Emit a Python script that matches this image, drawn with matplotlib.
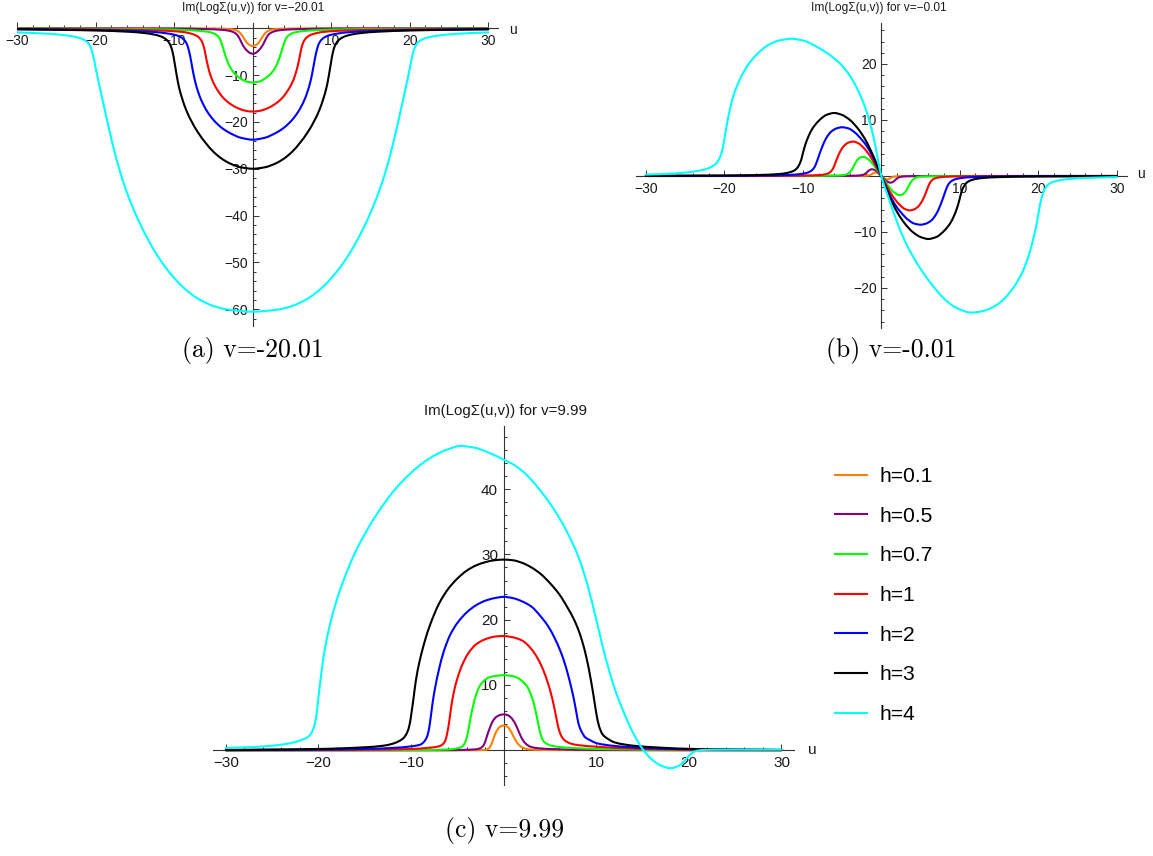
import matplotlib
matplotlib.use("Agg")
import matplotlib.pyplot as plt
from matplotlib.lines import Line2D
from matplotlib.path import Path
from matplotlib.patches import PathPatch

W, H = 1153, 856

# ---------------- data -----------------
labels = ["h=0.1", "h=0.5", "h=0.7", "h=1", "h=2", "h=3", "h=4"]
colors = ["#FF8000", "#800080", "#00FF00", "#FF0000", "#0000FF", "#000000", "#00FFFF"]

titles = ["Im(LogΣ(u,v)) for v=\u221220.01", "Im(LogΣ(u,v)) for v=\u22120.01", "Im(LogΣ(u,v)) for v=9.99"]
captions = ["(a) v=-20.01", "(b) v=-0.01", "(c) v=9.99"]

# panel (a)  v = -20.01
a_u_h01 = [-30,-10,-6,-4,-3,-2.4,-2.0,-1.8,-1.6,-1.4,-1.2,-1.0,-0.8,-0.6,-0.4,-0.2,0,0.2,0.4,0.6,0.8,1.0,1.2,1.4,1.6,1.8,2.0,2.4,3,4,6,10,30]
a_y_h01 = [-0.01,-0.04,-0.07,-0.12,-0.2,-0.32,-0.55,-0.75,-1.05,-1.45,-1.95,-2.5,-3.0,-3.35,-3.6,-3.75,-3.8,-3.75,-3.6,-3.35,-3.0,-2.5,-1.95,-1.45,-1.05,-0.75,-0.55,-0.32,-0.2,-0.12,-0.07,-0.04,-0.01]
a_u_h05 = [-30,-20,-10,-6,-4,-3.2,-2.7,-2.3,-2.0,-1.8,-1.6,-1.4,-1.2,-0.9,-0.6,-0.3,0,0.3,0.6,0.9,1.2,1.4,1.6,1.8,2.0,2.3,2.7,3.2,4,6,10,20,30]
a_y_h05 = [-0.03,-0.05,-0.1,-0.2,-0.35,-0.5,-0.7,-1.0,-1.4,-1.9,-2.5,-3.2,-3.8,-4.5,-5.0,-5.35,-5.45,-5.35,-5.0,-4.5,-3.8,-3.2,-2.5,-1.9,-1.4,-1.0,-0.7,-0.5,-0.35,-0.2,-0.1,-0.05,-0.03]
a_u_h07 = [-30,-20,-12,-8,-6,-5.0,-4.6,-4.3,-4.1,-3.9,-3.7,-3.5,-3.2,-2.9,-2.5,-2.0,-1.5,-1.0,-0.5,0,0.5,1.0,1.5,2.0,2.5,2.9,3.2,3.5,3.7,3.9,4.1,4.3,4.6,5.0,6,8,12,20,30]
a_y_h07 = [-0.08,-0.12,-0.25,-0.45,-0.7,-1.1,-1.5,-2.0,-2.7,-3.6,-4.7,-5.8,-7.2,-8.3,-9.3,-10.2,-10.8,-11.3,-11.5,-11.6,-11.5,-11.3,-10.8,-10.2,-9.3,-8.3,-7.2,-5.8,-4.7,-3.6,-2.7,-2.0,-1.5,-1.1,-0.7,-0.45,-0.25,-0.12,-0.08]
a_u_h1 = [-30,-18,-12,-9,-7.6,-7.0,-6.6,-6.35,-6.15,-5.95,-5.7,-5.4,-5.0,-4.5,-3.8,-3.0,-2.0,-1.0,0,1.0,2.0,3.0,3.8,4.5,5.0,5.4,5.7,5.95,6.15,6.35,6.6,7.0,7.6,9,12,18,30]
a_y_h1 = [-0.15,-0.3,-0.5,-0.8,-1.3,-1.8,-2.5,-3.4,-4.6,-6.3,-8.2,-10.0,-11.7,-13.2,-14.8,-16.0,-17.0,-17.6,-17.8,-17.6,-17.0,-16.0,-14.8,-13.2,-11.7,-10.0,-8.2,-6.3,-4.6,-3.4,-2.5,-1.8,-1.3,-0.8,-0.5,-0.3,-0.15]
a_u_h2 = [-30,-22,-16,-12,-10,-9.3,-8.8,-8.45,-8.2,-7.95,-7.7,-7.4,-7.0,-6.5,-5.8,-5.0,-4.0,-3.0,-1.5,0,1.5,3.0,4.0,5.0,5.8,6.5,7.0,7.4,7.7,7.95,8.2,8.45,8.8,9.3,10,12,16,22,30]
a_y_h2 = [-0.2,-0.35,-0.55,-0.9,-1.4,-1.8,-2.4,-3.2,-4.4,-6.2,-8.5,-11.0,-13.4,-15.6,-17.8,-19.6,-21.2,-22.3,-23.4,-23.8,-23.4,-22.3,-21.2,-19.6,-17.8,-15.6,-13.4,-11.0,-8.5,-6.2,-4.4,-3.2,-2.4,-1.8,-1.4,-0.9,-0.55,-0.35,-0.2]
a_u_h3 = [-30,-25,-20,-16,-13.5,-12,-11.3,-10.8,-10.45,-10.2,-9.95,-9.7,-9.4,-9.0,-8.5,-7.8,-7.0,-6.0,-5.0,-4.0,-3.0,-1.5,0,1.5,3.0,4.0,5.0,6.0,7.0,7.8,8.5,9.0,9.4,9.7,9.95,10.2,10.45,10.8,11.3,12,13.5,16,20,25,30]
a_y_h3 = [-0.25,-0.35,-0.5,-0.75,-1.1,-1.6,-2.1,-2.8,-3.8,-5.2,-7.5,-10.0,-12.6,-15.0,-17.4,-19.9,-22.2,-24.5,-26.4,-27.8,-28.8,-29.7,-30.0,-29.7,-28.8,-27.8,-26.4,-24.5,-22.2,-19.9,-17.4,-15.0,-12.6,-10.0,-7.5,-5.2,-3.8,-2.8,-2.1,-1.6,-1.1,-0.75,-0.5,-0.35,-0.25]
a_u_h4 = [-30,-26,-24,-22.5,-21.6,-21.0,-20.6,-20.3,-20.0,-19.7,-19.3,-18.8,-18.3,-17.7,-17.0,-16.2,-15.2,-14,-12.5,-11,-9,-7,-5,-3,0,3,5,7,9,11,12.5,14,15.2,16.2,17.0,17.7,18.3,18.8,19.3,19.7,20.0,20.3,20.6,21.0,21.6,22.5,24,26,30]
a_y_h4 = [-0.9,-1.2,-1.5,-1.9,-2.4,-3.1,-4.3,-6.1,-8.6,-11.0,-14.1,-17.9,-21.6,-25.8,-30.1,-34.3,-38.6,-43.0,-47.6,-51.3,-55.1,-57.7,-59.3,-60.1,-60.5,-60.1,-59.3,-57.7,-55.1,-51.3,-47.6,-43.0,-38.6,-34.3,-30.1,-25.8,-21.6,-17.9,-14.1,-11.0,-8.6,-6.1,-4.3,-3.1,-2.4,-1.9,-1.5,-1.2,-0.9]

# panel (b)  v = -0.01
b_u_h01 = [-30,-4,-2,-1.6,-1.3,-1.0,-0.7,-0.4,0,0.4,0.7,1.0,1.3,1.6,2,4,30]
b_y_h01 = [0,0.01,0.05,0.12,0.25,0.5,0.62,0.45,0,-0.45,-0.62,-0.5,-0.25,-0.12,-0.05,-0.01,0]
b_u_h05 = [-30,-6,-4,-3,-2.5,-2.1,-1.8,-1.5,-1.2,-0.9,-0.6,-0.3,0,0.3,0.6,0.9,1.2,1.5,1.8,2.1,2.5,3,4,6,30]
b_y_h05 = [0,0.01,0.03,0.07,0.15,0.35,0.7,1.05,1.2,1.1,0.85,0.45,0,-0.45,-0.85,-1.1,-1.2,-1.05,-0.7,-0.35,-0.15,-0.07,-0.03,-0.01,0]
b_u_h07 = [-30,-10,-6,-5,-4.5,-4.2,-3.9,-3.6,-3.3,-3.0,-2.6,-2.2,-1.8,-1.3,-0.7,0,0.7,1.3,1.8,2.2,2.6,3.0,3.3,3.6,3.9,4.2,4.5,5,6,10,30]
b_y_h07 = [0,0.02,0.06,0.12,0.25,0.45,0.85,1.5,2.3,2.95,3.35,3.4,3.1,2.5,1.4,0,-1.4,-2.5,-3.1,-3.4,-3.35,-2.95,-2.3,-1.5,-0.85,-0.45,-0.25,-0.12,-0.06,-0.02,0]
b_u_h1 = [-30,-15,-10,-8,-7,-6.6,-6.3,-6.0,-5.7,-5.3,-4.8,-4.2,-3.6,-3.0,-2.3,-1.5,-0.7,0,0.7,1.5,2.3,3.0,3.6,4.2,4.8,5.3,5.7,6.0,6.3,6.6,7,8,10,15,30]
b_y_h1 = [0,0.02,0.06,0.15,0.35,0.6,1.0,1.8,2.9,4.2,5.3,5.95,6.15,5.9,5.1,3.7,1.8,0,-1.8,-3.7,-5.1,-5.9,-6.15,-5.95,-5.3,-4.2,-2.9,-1.8,-1.0,-0.6,-0.35,-0.15,-0.06,-0.02,0]
b_u_h2 = [-30,-20,-15,-11,-9.5,-8.9,-8.5,-8.2,-7.9,-7.5,-7.0,-6.4,-5.7,-5.0,-4.2,-3.4,-2.5,-1.7,-0.8,0,0.8,1.7,2.5,3.4,4.2,5.0,5.7,6.4,7.0,7.5,7.9,8.2,8.5,8.9,9.5,11,15,20,30]
b_y_h2 = [0.01,0.03,0.08,0.25,0.55,0.95,1.6,2.6,3.8,5.3,6.8,7.9,8.5,8.7,8.5,7.8,6.5,5.0,2.6,0,-2.6,-5.0,-6.5,-7.8,-8.5,-8.7,-8.5,-7.9,-6.8,-5.3,-3.8,-2.6,-1.6,-0.95,-0.55,-0.25,-0.08,-0.03,-0.01]
b_u_h3 = [-30,-20,-15,-13,-12,-11.2,-10.8,-10.5,-10.2,-10.0,-9.7,-9.3,-8.8,-8.0,-7.0,-6.0,-5.0,-4.0,-3.0,-2.0,-1.0,-0.5,0,0.5,1.0,2.0,3.0,4.0,5.0,6.0,7.0,8.0,8.8,9.3,9.7,10.0,10.2,10.5,10.8,11.2,12,13,15,20,30]
b_y_h3 = [0.02,0.08,0.2,0.35,0.55,0.9,1.3,1.9,2.9,4.0,5.5,7.0,8.4,9.8,10.9,11.25,10.9,10.0,8.5,6.4,3.5,1.8,0,-1.8,-3.5,-6.4,-8.5,-10.0,-10.9,-11.25,-10.9,-9.8,-8.4,-7.0,-5.5,-4.0,-2.9,-1.9,-1.3,-0.9,-0.55,-0.35,-0.2,-0.08,-0.02]
b_u_h4 = [-30,-27,-25,-23,-22,-21,-20.5,-20.2,-20.0,-19.7,-19.3,-18.8,-18,-17,-16,-14.5,-13,-11.5,-10,-8,-6,-5,-4,-3,-2,-1,0,1.0,2,3,4,5,6.5,8,9.5,11.5,13,14.5,15.3,16,17,18,18.8,19.4,19.8,20.1,20.4,20.8,21.3,22,23.5,26,30]
b_y_h4 = [0.24,0.4,0.6,1.0,1.4,2.3,3.5,5.0,6.5,9.0,11.8,14.5,17.3,19.8,21.5,23.3,24.2,24.5,24.2,22.9,21.0,19.7,17.9,15.4,12.0,7.0,0,-4.2,-8.2,-11.6,-14.3,-16.6,-19.5,-21.9,-23.5,-24.4,-24.1,-23.2,-22.4,-21.4,-19.6,-17.1,-14.1,-11.0,-8.5,-6.0,-4.0,-2.4,-1.5,-1.0,-0.6,-0.35,-0.2]

# panel (c)  v = 9.99
c_u_h01 = [-30,-4,-2,-1.6,-1.3,-1.0,-0.7,-0.4,0,0.4,0.7,1.0,1.3,1.6,2.0,2.5,3,5,30]
c_y_h01 = [0,0.01,0.05,0.3,1.0,2.2,3.1,3.6,3.8,3.6,3.1,2.3,1.5,0.9,0.45,0.2,0.12,0.04,0]
c_u_h05 = [-30,-6,-3,-2.5,-2.2,-2.0,-1.8,-1.5,-1.2,-0.8,-0.4,0,0.4,0.8,1.2,1.5,1.8,2.1,2.4,2.8,3.5,5,10,30]
c_y_h05 = [0.0,0.02,0.15,0.35,0.7,1.3,2.2,3.4,4.4,5.1,5.4,5.5,5.4,5.0,4.2,3.3,2.3,1.5,1.0,0.6,0.35,0.2,0.05,0.0]
c_u_h07 = [-30,-10,-6,-5,-4.5,-4.2,-4.0,-3.8,-3.6,-3.3,-3.0,-2.6,-2.0,-1.5,-1,0,1,1.5,2.0,2.6,3.0,3.3,3.6,3.8,4.0,4.3,4.7,5.2,6,7,10,20,30]
c_y_h07 = [0.0,0.03,0.12,0.3,0.56,1.1,1.9,3.2,4.8,6.8,8.4,9.8,10.8,11.2,11.35,11.5,11.35,11.1,10.6,9.6,8.3,6.9,5.0,3.6,2.4,1.4,0.95,0.7,0.5,0.4,0.2,0.05,0.02]
c_u_h1 = [-30,-15,-10,-8,-7,-6.6,-6.3,-6.1,-5.9,-5.7,-5.4,-5.0,-4.5,-3.8,-3,-2,-1,0,1,2,3,3.7,4.3,4.8,5.2,5.5,5.75,6.0,6.3,6.7,7.3,8,10,14,20,30]
c_y_h1 = [0.01,0.08,0.2,0.4,0.6,0.9,1.5,2.6,4.2,6.3,8.8,11.0,13.0,14.9,16.2,17.0,17.4,17.5,17.3,16.8,15.5,14.0,12.2,10.2,8.2,6.3,4.5,3.0,2.0,1.4,1.0,0.8,0.55,0.26,0.1,0.03]
c_u_h2 = [-30,-20,-15,-12,-10,-9,-8.6,-8.3,-8.1,-7.9,-7.7,-7.4,-7.0,-6.5,-5.8,-5,-4,-3,-2,-1,0,1,2,3,4,4.8,5.5,6.1,6.6,7.0,7.3,7.6,7.85,8.1,8.4,8.8,9.4,10,12,15,20,30]
c_y_h2 = [0.03,0.1,0.2,0.36,0.6,0.87,1.3,2.0,3.0,4.8,7.0,9.6,12.3,15.0,17.6,19.5,21.1,22.2,22.9,23.3,23.5,23.3,22.8,22.0,20.5,19.0,17.2,15.3,13.3,11.3,9.6,7.7,5.8,4.0,2.9,2.0,1.5,1.1,0.66,0.36,0.15,0.05]
c_u_h3 = [-30,-25,-20,-15,-13,-12,-11.3,-10.8,-10.4,-10.15,-9.95,-9.75,-9.5,-9.1,-8.5,-8,-7,-6,-5,-4,-3,-2,-1,0,1,2,3,4,5,6,7,7.5,8,8.5,9.0,9.4,9.7,10.0,10.3,10.7,11.2,12,13,14,17,20,25,30]
c_y_h3 = [0.05,0.12,0.2,0.46,0.7,1.0,1.4,1.9,2.8,4.0,5.8,7.8,10.5,13.5,16.8,19.0,22.4,24.7,26.3,27.5,28.3,28.8,29.1,29.2,29.1,28.7,28.0,27.0,25.6,23.9,21.6,20.3,18.7,16.6,13.8,10.9,8.4,5.7,3.7,2.4,1.8,1.2,0.9,0.7,0.4,0.22,0.12,0.06]
c_u_h4 = [-30,-27,-25,-23,-22,-21,-20.5,-20.2,-20.0,-19.7,-19.3,-18.8,-18.2,-17.5,-16.8,-16,-15,-14,-13,-12,-11,-10,-9,-8,-7,-6,-4.7,-3,-2,-1,0,1,2,3,4,5,6,7,8,9,10,11,12,13,14,15,16,17,18,19,19.6,20.1,20.6,21.5,24,30]
c_y_h4 = [0.36,0.5,0.7,1.1,1.5,2.2,3.5,5.6,8.1,11.7,15.6,19.0,22.2,25.2,27.8,30.4,33.1,35.5,37.6,39.5,41.1,42.5,43.7,44.7,45.5,46.1,46.6,46.3,45.8,45.2,44.5,43.8,42.8,41.4,39.7,37.8,35.6,33.0,29.9,25.6,20.0,14.2,9.4,5.7,2.6,0.2,-1.4,-2.35,-2.75,-2.3,-1.5,-0.7,-0.2,0.05,0.1,0.1]

a_series = [(a_u_h01, a_y_h01), (a_u_h05, a_y_h05), (a_u_h07, a_y_h07), (a_u_h1, a_y_h1),
            (a_u_h2, a_y_h2), (a_u_h3, a_y_h3), (a_u_h4, a_y_h4)]
b_series = [(b_u_h01, b_y_h01), (b_u_h05, b_y_h05), (b_u_h07, b_y_h07), (b_u_h1, b_y_h1),
            (b_u_h2, b_y_h2), (b_u_h3, b_y_h3), (b_u_h4, b_y_h4)]
c_series = [(c_u_h01, c_y_h01), (c_u_h05, c_y_h05), (c_u_h07, c_y_h07), (c_u_h1, c_y_h1),
            (c_u_h2, c_y_h2), (c_u_h3, c_y_h3), (c_u_h4, c_y_h4)]

a_yticks = [-60, -50, -40, -30, -20, -10]
b_yticks = [-20, -10, 10, 20]
c_yticks = [10, 20, 30, 40]
xticks = [-30, -20, -10, 10, 20, 30]

# ---------------- drawing -----------------
SANS = ["Liberation Sans", "DejaVu Sans"]
plt.rcParams["font.family"] = SANS
AX_COLOR = "#333333"
TXT = "#1a1a1a"
LW = 1.5

fig = plt.figure(figsize=(W / 100, H / 100), dpi=100)


def px_axes(left, right, top, bottom):
    return fig.add_axes([left / W, 1 - bottom / H, (right - left) / W, (bottom - top) / H])


def fmt(t):
    return "\u2212%d" % -t if t < 0 else "%d" % t


def style(ax, xlim, ylim, yticks, ymin_minor, ymax_minor, fs, xpad, ypad):
    ax.set_xlim(*xlim)
    ax.set_ylim(*ylim)
    ax.patch.set_alpha(0)
    for s in ("top", "right"):
        ax.spines[s].set_visible(False)
    ax.spines["left"].set_position(("data", 0))
    ax.spines["bottom"].set_position(("data", 0))
    for s in ("left", "bottom"):
        ax.spines[s].set_linewidth(0.8)
        ax.spines[s].set_color(AX_COLOR)
        ax.spines[s].set_zorder(1)
    ax.set_xticks(xticks)
    ax.set_xticklabels([fmt(t) for t in xticks])
    ax.set_xticks([t for t in range(-30, 31, 2) if t % 10 != 0], minor=True)
    ax.set_yticks(yticks)
    ax.set_yticklabels([fmt(t) for t in yticks])
    ax.set_yticks([t for t in range(ymin_minor, ymax_minor + 1, 2) if t % 10 != 0], minor=True)
    ax.tick_params(which="both", direction="in", color=AX_COLOR, width=0.7,
                   labelsize=fs, labelcolor=TXT)
    ax.tick_params(axis="x", which="both", pad=xpad)
    ax.tick_params(axis="y", which="both", pad=ypad)
    ax.tick_params(which="major", length=4.2)
    ax.tick_params(which="minor", length=2.4)


def smooth_path(x, y):
    # monotone cubic (Fritsch-Carlson) Hermite segments rendered as Bezier curves
    n = len(x)
    h = [x[k + 1] - x[k] for k in range(n - 1)]
    d = [(y[k + 1] - y[k]) / h[k] for k in range(n - 1)]
    m = [0.0] * n
    m[0] = d[0]
    m[-1] = d[-1]
    for k in range(1, n - 1):
        if d[k - 1] * d[k] <= 0:
            m[k] = 0.0
        else:
            w1 = 2 * h[k] + h[k - 1]
            w2 = h[k] + 2 * h[k - 1]
            m[k] = (w1 + w2) / (w1 / d[k - 1] + w2 / d[k])
    verts = [(x[0], y[0])]
    codes = [Path.MOVETO]
    for k in range(n - 1):
        verts += [(x[k] + h[k] / 3, y[k] + m[k] * h[k] / 3),
                  (x[k + 1] - h[k] / 3, y[k + 1] - m[k + 1] * h[k] / 3),
                  (x[k + 1], y[k + 1])]
        codes += [Path.CURVE4] * 3
    return Path(verts, codes)


def draw(ax, series):
    for (u, y), c in zip(series, colors):
        ax.add_patch(PathPatch(smooth_path(u, y), fill=False, edgecolor=c, lw=LW,
                               zorder=3, capstyle="round", joinstyle="round"))


# panel (a)
axa = px_axes(16.5, 497.7, 23.0, 326.2)
style(axa, (-30.1, 31.2), (-63.6, 1.1), a_yticks, -62, 0, 10, 4.0, 3.2)
draw(axa, a_series)

# panel (b)
axb = px_axes(635.6, 1127.0, 23.1, 328.3)
style(axb, (-31.3, 31.3), (-27.2, 27.3), b_yticks, -26, 26, 10, 4.0, 3.2)
draw(axb, b_series)

# panel (c)
axc = px_axes(212.9, 793.5, 426.4, 784.9)
style(axc, (-31.4, 31.3), (-5.3, 49.6), c_yticks, -4, 48, 11, 4.4, 4.0)
draw(axc, c_series)


def ftext(x, y, s, **kw):
    fig.text(x / W, 1 - y / H, s, **kw)


# titles
ftext(253, 8, titles[0], ha="center", va="center", fontsize=8.6, color=TXT)
ftext(879, 8, titles[1], ha="center", va="center", fontsize=8.6, color=TXT)
ftext(505, 411, titles[2], ha="center", va="center", fontsize=10.8, color=TXT)

# axis labels "u"
ftext(513, 30, "u", ha="center", va="center", fontsize=10, color=TXT)
ftext(1141, 174, "u", ha="center", va="center", fontsize=10, color=TXT)
ftext(812, 750, "u", ha="center", va="center", fontsize=11, color=TXT)

# captions (serif, Computer Modern)
SERIF = ["cmr10", "DejaVu Serif"]
ftext(253, 350, captions[0], ha="center", va="center", fontsize=18.5, family=SERIF)
ftext(891, 350, captions[1], ha="center", va="center", fontsize=18.5, family=SERIF)
ftext(505, 830, captions[2], ha="center", va="center", fontsize=18.5, family=SERIF)

# legend
handles = [Line2D([], [], color=c, lw=LW) for c in colors]
fig.legend(handles, labels, loc="upper left", bbox_to_anchor=(835 / W, 1 - 467 / H),
           frameon=False, fontsize=15.2, handlelength=1.5, handletextpad=0.6,
           labelspacing=0.98, borderpad=0, borderaxespad=0)

fig.savefig("out.png", dpi=100)
